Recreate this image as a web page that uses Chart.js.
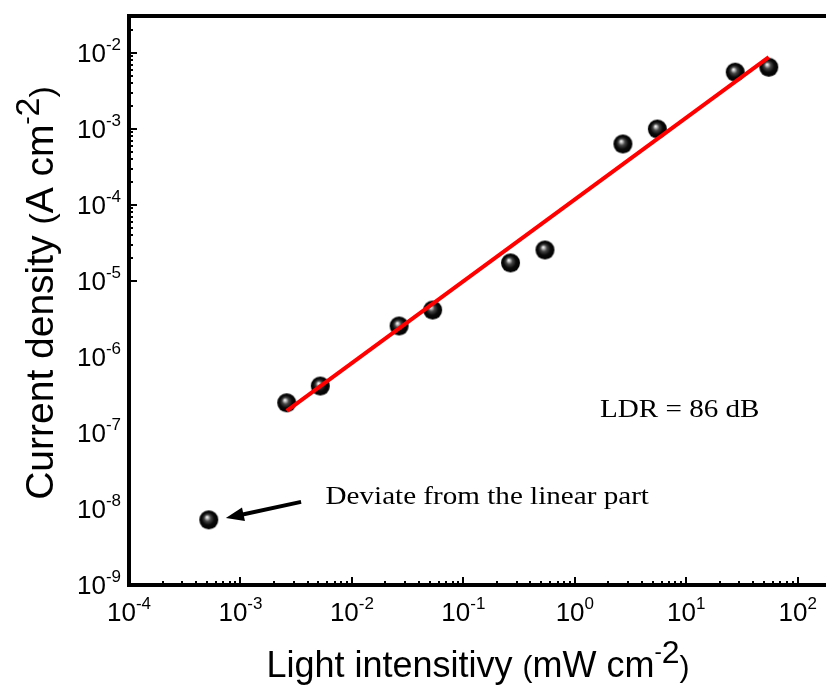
<!DOCTYPE html>
<html>
<head>
<meta charset="utf-8">
<script src="https://cdn.jsdelivr.net/npm/chart.js@4.4.1/dist/chart.umd.min.js"></script>
<style>
  html, body { margin: 0; padding: 0; background: #fff; overflow: hidden; }
  #wrap { position: relative; width: 860px; height: 687px; }
</style>
</head>
<body>
<div id="wrap"><canvas id="chart"></canvas></div>
<script>
// measured points (mW cm-2 vs A cm-2)
const intensity = [5.2e-4, 2.6e-3, 5.2e-3, 0.0265, 0.053, 0.265, 0.54, 2.7, 5.5, 27.5, 55];
const currentDensity = [7.2e-9, 2.5e-7, 4.15e-7, 2.56e-6, 4.15e-6, 1.73e-5, 2.56e-5, 6.35e-4, 1.0e-3, 5.6e-3, 6.5e-3];

// linear fit ends
const fitX = [2.6e-3, 55];
const fitY = [1.95e-7, 8.85e-3];

// decades shown on the axes
const xDecades = [-4, -3, -2, -1, 0, 1, 2];
const yDecades = [-9, -8, -7, -6, -5, -4, -3, -2];

// annotations (data coordinates)
const arrowFrom = [3.5e-3, 1.24e-8];
const arrowTo = [7.4e-4, 7.6e-9];
const noteTexts = ['Deviate from the linear part', 'LDR = 86 dB'];
const noteX = [5.8e-3, 1.68];
const noteY = [1.44e-8, 2.0e-7];

const SANS = '"Liberation Sans", Arial, sans-serif';
const SERIF = '"Liberation Serif", "Times New Roman", serif';

function makeBall(r) {
    const c = document.createElement('canvas');
    c.width = c.height = 2 * r + 2;
    const g = c.getContext('2d');
    const cx = r + 1, cy = r + 1;
    const grad = g.createRadialGradient(cx - r * 0.2, cy - r * 0.3, 0, cx, cy, r);
    grad.addColorStop(0, '#ffffff');
    grad.addColorStop(0.1, '#d8d8d8');
    grad.addColorStop(0.35, '#454545');
    grad.addColorStop(0.65, '#0a0a0a');
    grad.addColorStop(1, '#000');
    g.fillStyle = grad;
    g.beginPath();
    g.arc(cx, cy, r, 0, Math.PI * 2);
    g.fill();
    return c;
}
const ball = makeBall(9.5);

function drawParts(ctx, parts, x, y, align) {
    let w = 0;
    parts.forEach(p => {
        ctx.font = p.size + 'px ' + (p.family || SANS);
        p.w = ctx.measureText(p.t).width;
        w += p.w;
    });
    let cx = align === 'center' ? x - w / 2 : (align === 'right' ? x - w : x);
    ctx.textAlign = 'left';
    ctx.textBaseline = 'alphabetic';
    parts.forEach(p => {
        ctx.font = p.size + 'px ' + (p.family || SANS);
        ctx.fillText(p.t, cx, y + (p.dy || 0));
        cx += p.w;
    });
}

const originAxes = {
    id: 'originAxes',
    afterDatasetsDraw(chart) {
        const ctx = chart.ctx;
        const xs = chart.scales.x, ys = chart.scales.y;
        const { left, right, top, bottom } = chart.chartArea;
        ctx.save();
        ctx.fillStyle = '#000';
        ctx.strokeStyle = '#000';

        // minor + major ticks, pointing inward
        ctx.lineWidth = 2;
        ctx.beginPath();
        for (let d = -5; d <= 3; d++) {
            for (let m = 1; m <= 9; m++) {
                const v = m * Math.pow(10, d);
                if (v >= xs.min && v <= xs.max) {
                    const px = Math.round(xs.getPixelForValue(v));
                    ctx.moveTo(px, bottom);
                    ctx.lineTo(px, bottom - (m === 1 ? 8 : 4));
                }
                if (v >= ys.min && v <= ys.max) {
                    const py = Math.round(ys.getPixelForValue(v));
                    ctx.moveTo(left, py);
                    ctx.lineTo(left + (m === 1 ? 8 : 4), py);
                }
            }
        }
        ctx.stroke();

        // frame
        ctx.lineWidth = 4;
        ctx.strokeRect(left, top, right - left, bottom - top);

        // tick labels
        xDecades.forEach(d => {
            const px = xs.getPixelForValue(Math.pow(10, d));
            drawParts(ctx, [{ t: '10', size: 26 }, { t: String(d), size: 17, dy: -12 }], px, bottom + 36, 'center');
        });
        yDecades.forEach(d => {
            const py = ys.getPixelForValue(Math.pow(10, d));
            drawParts(ctx, [{ t: '10', size: 26 }, { t: String(d), size: 17, dy: -12 }], left - 8, py + 9, 'right');
        });

        // axis titles
        drawParts(ctx, [
            { t: 'Light intensitivy ', size: 36 },
            { t: '(', size: 30 },
            { t: 'mW cm', size: 36 },
            { t: '-', size: 22, dy: -18 },
            { t: '2', size: 32, dy: -14 },
            { t: ')', size: 30 }
        ], 478, 677, 'center');

        ctx.save();
        ctx.translate(53, 293);
        ctx.rotate(-Math.PI / 2);
        drawParts(ctx, [
            { t: 'Current density ', size: 39 },
            { t: '(', size: 34 },
            { t: 'A cm', size: 39 },
            { t: '-', size: 24, dy: -19 },
            { t: '2', size: 34, dy: -14 },
            { t: ')', size: 34 }
        ], 0, 0, 'center');
        ctx.restore();

        // arrow
        const ax0 = xs.getPixelForValue(arrowFrom[0]), ay0 = ys.getPixelForValue(arrowFrom[1]);
        const ax1 = xs.getPixelForValue(arrowTo[0]), ay1 = ys.getPixelForValue(arrowTo[1]);
        const ang = Math.atan2(ay1 - ay0, ax1 - ax0);
        const headLen = 18, headW = 7;
        const bx = ax1 - headLen * Math.cos(ang), by = ay1 - headLen * Math.sin(ang);
        ctx.lineWidth = 4;
        ctx.beginPath();
        ctx.moveTo(ax0, ay0);
        ctx.lineTo(bx + 2 * Math.cos(ang), by + 2 * Math.sin(ang));
        ctx.stroke();
        ctx.beginPath();
        ctx.moveTo(ax1, ay1);
        ctx.lineTo(bx + headW * Math.sin(ang), by - headW * Math.cos(ang));
        ctx.lineTo(bx - headW * Math.sin(ang), by + headW * Math.cos(ang));
        ctx.closePath();
        ctx.fill();

        // notes
        noteTexts.forEach((t, i) => {
            const px = xs.getPixelForValue(noteX[i]), py = ys.getPixelForValue(noteY[i]);
            ctx.save();
            ctx.translate(px, py);
            ctx.scale(1.12, 1);
            ctx.font = '26px ' + SERIF;
            ctx.textAlign = 'left';
            ctx.textBaseline = 'middle';
            ctx.fillText(t, 0, 0);
            ctx.restore();
        });

        ctx.restore();
    }
};

const xMin = 1e-4, xMax = Math.pow(10, 2.46);
const yMin = 1e-9, yMax = Math.pow(10, -1.513);

new Chart(document.getElementById('chart'), {
    type: 'scatter',
    data: {
        datasets: [
            {
                label: 'Fit',
                type: 'line',
                data: fitX.map((x, i) => ({ x: x, y: fitY[i] })),
                borderColor: '#ff0000',
                borderWidth: 4,
                pointRadius: 0,
                fill: false,
                order: 0
            },
            {
                label: 'Data',
                data: intensity.map((x, i) => ({ x: x, y: currentDensity[i] })),
                pointStyle: ball,
                pointRadius: 10,
                order: 1
            }
        ]
    },
    options: {
        responsive: true,
        maintainAspectRatio: false,
        animation: false,
        layout: { padding: { left: 129, top: 16, right: 10, bottom: 102 } },
        plugins: { legend: { display: false }, tooltip: { enabled: false } },
        scales: {
            x: {
                type: 'logarithmic', min: xMin, max: xMax,
                grid: { display: false, drawTicks: false },
                border: { display: false },
                ticks: { display: false }
            },
            y: {
                type: 'logarithmic', min: yMin, max: yMax,
                grid: { display: false, drawTicks: false },
                border: { display: false },
                ticks: { display: false }
            }
        }
    },
    plugins: [originAxes]
});
</script>
</body>
</html>
